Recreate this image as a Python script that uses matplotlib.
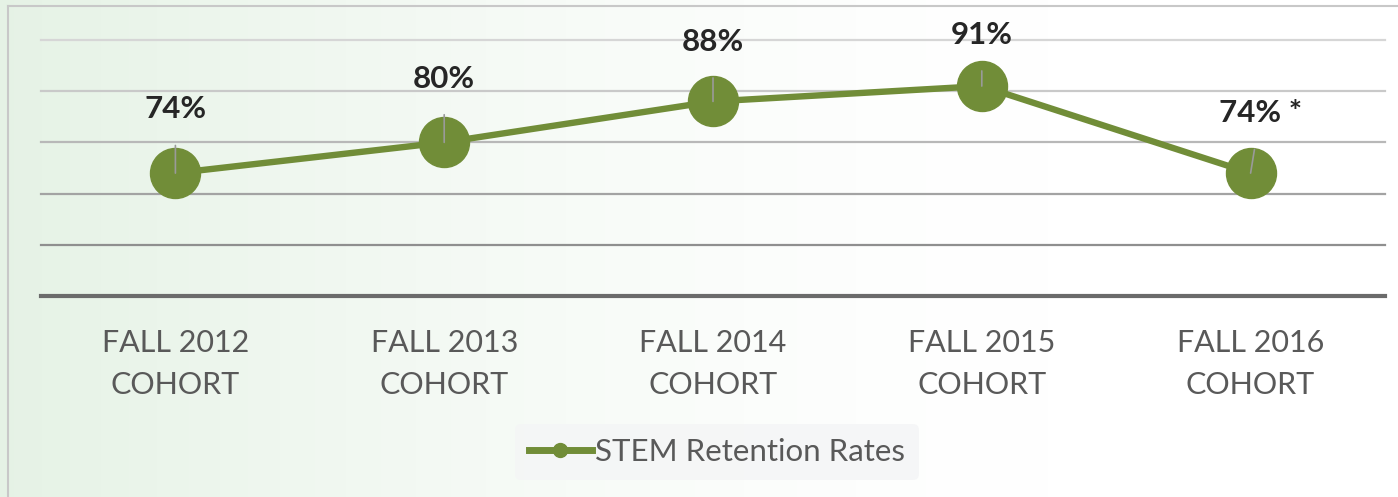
import numpy as np
import matplotlib
matplotlib.use('Agg')
import matplotlib.pyplot as plt
from matplotlib.lines import Line2D

cohorts = ['FALL 2012\nCOHORT', 'FALL 2013\nCOHORT', 'FALL 2014\nCOHORT',
           'FALL 2015\nCOHORT', 'FALL 2016\nCOHORT']
rates = [74, 80, 88, 91, 74]
labels = ['74%', '80%', '88%', '91%', '74% *']

green = '#718d38'
gray_txt = '#595959'

plt.rcParams['font.family'] = ['Lato', 'DejaVu Sans']

fig = plt.figure(figsize=(13.98, 4.97), dpi=100)

# faint greenish background on the left, fading to white
bg = fig.add_axes([0, 0, 1, 1], zorder=-10)
xx = np.linspace(0, 1, 400)
yy = np.linspace(0, 1, 150)
X, Y = np.meshgrid(xx, yy)
t = np.clip(1 - X / 0.75, 0, 1) ** 1.5
c0 = np.array([0.90, 0.95, 0.90])
c1 = np.array([1.0, 1.0, 1.0])
img = c1 + (c0 - c1) * t[..., None]
bg.imshow(img, aspect='auto', extent=[0, 1, 0, 1], origin='lower')
bg.plot([8 / 1398, 8 / 1398], [0, 1 - 6 / 497], color='#c8c8c8', lw=1.5)
bg.plot([8 / 1398, 1], [1 - 6 / 497, 1 - 6 / 497], color='#c8c8c8', lw=1.5)
bg.set_xlim(0, 1)
bg.set_ylim(0, 1)
bg.axis('off')

ax = fig.add_axes([41 / 1398, 1 - 296 / 497, 1344 / 1398, 256 / 497])
ax.patch.set_alpha(0)
x = np.arange(len(cohorts))

grid_cols = {60: '#8f8f8f', 70: '#a3a3a3', 80: '#b8b8b8', 90: '#c9c9c9', 100: '#d6d6d6'}
for v, c in grid_cols.items():
    ax.axhline(v, color=c, lw=1.6, zorder=1, clip_on=False)
ax.axhline(50, color='#6b6b6b', lw=3, zorder=2, clip_on=False)

ax.plot(x, rates, color=green, lw=4.6, marker='o', markersize=36,
        markerfacecolor=green, markeredgecolor=green, zorder=3, clip_on=False)

offsets = [(0, 46), (0, 46), (0, 43), (0, 37), (7, 43)]
for xi, r, lab, off in zip(x, rates, labels, offsets):
    ax.annotate(lab, xy=(xi, r), xytext=off, textcoords='offset points',
                ha='center', va='center', fontsize=22.5, fontweight='bold',
                color='#262626', zorder=5,
                arrowprops=dict(arrowstyle='-', color='#9a9a9a', lw=1.2,
                                shrinkA=14, shrinkB=0))

ax.set_xlim(-0.5, len(cohorts) - 0.5)
ax.set_ylim(50, 100)
ax.set_yticks([])
ax.set_xticks(x)
ax.set_xticklabels(cohorts, fontsize=22, color=gray_txt, linespacing=1.6)
ax.tick_params(axis='x', length=0, pad=24)
for s in ax.spines.values():
    s.set_visible(False)

handle = Line2D([], [], color=green, lw=5, marker='o', markersize=10)
leg = fig.legend([handle], ['STEM Retention Rates'], loc='center',
                 bbox_to_anchor=(717 / 1398, 1 - 452 / 497), frameon=True,
                 fontsize=22.5, handlelength=2.0, handletextpad=0.1,
                 borderpad=0.45, labelcolor=gray_txt)
leg.get_frame().set_facecolor('#f4f5f6')
leg.get_frame().set_edgecolor('none')

fig.savefig('out.png', dpi=100)
